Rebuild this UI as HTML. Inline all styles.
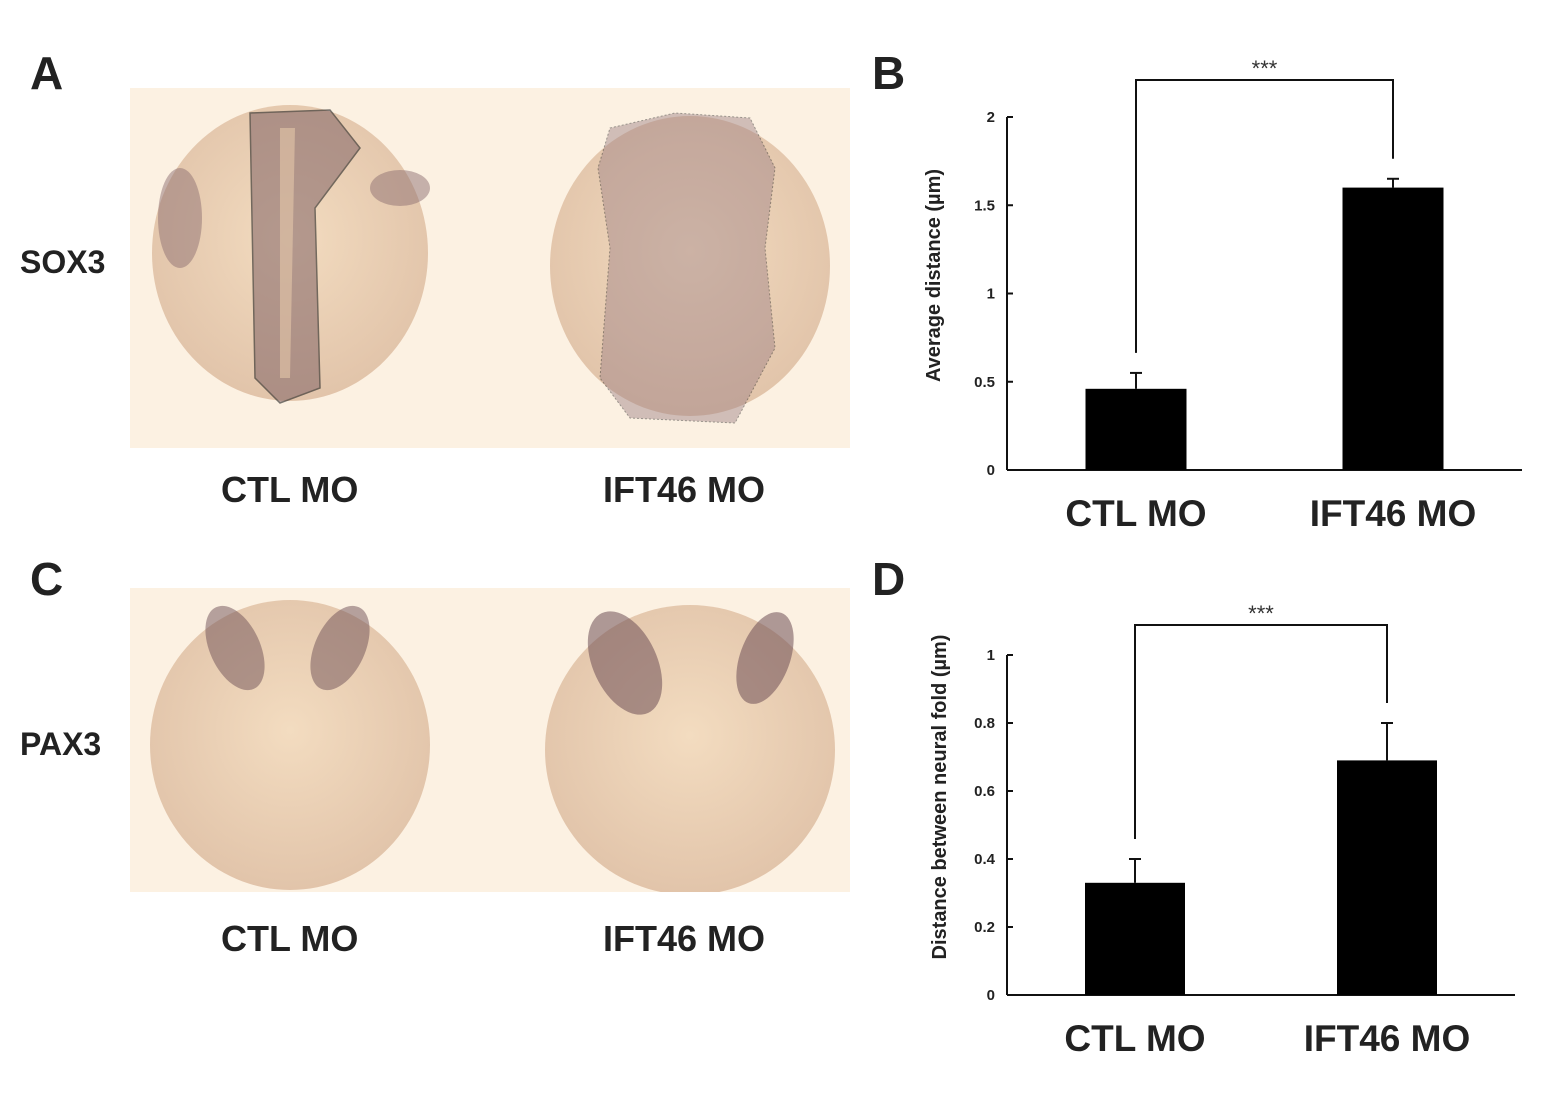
<!DOCTYPE html>
<html><head><meta charset="utf-8"><style>
body{margin:0;width:1556px;height:1104px;background:#fff;position:relative;overflow:hidden;font-family:"Liberation Sans",sans-serif;}
.t{position:absolute;font-weight:bold;color:#222;white-space:nowrap}
</style></head><body>
<div class="t" style="left:30px;top:46px;font-size:46px">A</div>
<div class="t" style="left:872px;top:46px;font-size:46px">B</div>
<div class="t" style="left:30px;top:552px;font-size:46px">C</div>
<div class="t" style="left:872px;top:552px;font-size:46px">D</div>
<div class="t" style="left:20px;top:244px;font-size:32px">SOX3</div>
<div class="t" style="left:20px;top:726px;font-size:32px">PAX3</div>
<div class="t" style="left:221px;top:469px;font-size:36px">CTL MO</div>
<div class="t" style="left:603px;top:469px;font-size:36px">IFT46 MO</div>
<div class="t" style="left:221px;top:918px;font-size:36px">CTL MO</div>
<div class="t" style="left:603px;top:918px;font-size:36px">IFT46 MO</div>

<svg style="position:absolute;left:130px;top:88px" width="720" height="360">
<defs><radialGradient id="g1" cx="0.5" cy="0.45" r="0.6"><stop offset="0" stop-color="#f3dcc0"/><stop offset="1" stop-color="#e0c2a8"/></radialGradient></defs>
<rect width="720" height="360" fill="#fcf1e2"/>
<ellipse cx="160" cy="165" rx="138" ry="148" fill="url(#g1)"/>
<ellipse cx="560" cy="178" rx="140" ry="150" fill="url(#g1)"/>
<ellipse cx="50" cy="130" rx="22" ry="50" fill="#8d6f72" opacity="0.5"/>
<ellipse cx="270" cy="100" rx="30" ry="18" fill="#8d6f72" opacity="0.5"/>
<path d="M120 25 L200 22 L230 60 L185 120 L190 300 L150 315 L125 290 Z" fill="#8a6c6c" opacity="0.6" stroke="#222" stroke-width="1.5"/>
<path d="M150 40 L165 40 L160 290 L150 290 Z" fill="#f0d2b0" opacity="0.5"/>
<path d="M480 40 L545 25 L620 30 L645 80 L635 160 L645 260 L605 335 L500 330 L470 290 L480 160 L468 80 Z" fill="#9d8085" opacity="0.45" stroke="#222" stroke-width="1" stroke-dasharray="2,2"/>
</svg>
<svg style="position:absolute;left:130px;top:588px" width="720" height="304">
<rect width="720" height="304" fill="#fcf1e2"/>
<ellipse cx="160" cy="157" rx="140" ry="145" fill="url(#g1)"/>
<ellipse cx="560" cy="162" rx="145" ry="145" fill="url(#g1)"/>
<ellipse cx="105" cy="60" rx="25" ry="45" fill="#6e4f55" opacity="0.5" transform="rotate(-25 105 60)"/>
<ellipse cx="210" cy="60" rx="25" ry="45" fill="#6e4f55" opacity="0.5" transform="rotate(25 210 60)"/>
<ellipse cx="495" cy="75" rx="32" ry="55" fill="#6e4f55" opacity="0.55" transform="rotate(-25 495 75)"/>
<ellipse cx="635" cy="70" rx="25" ry="48" fill="#6e4f55" opacity="0.55" transform="rotate(20 635 70)"/>
</svg>

<svg id="chart" style="position:absolute;left:0;top:0" width="1556" height="1104"></svg>
<script>
const categories=["CTL MO","IFT46 MO"];
const bValues=[0.46,1.6];
const bErrors=[0.09,0.05];
const bTicks=["0","0.5","1","1.5","2"];
const dValues=[0.33,0.69];
const dErrors=[0.07,0.11];
const dTicks=["0","0.2","0.4","0.6","0.8","1"];
const svg=document.getElementById('chart');
const NS='http://www.w3.org/2000/svg';
function mk(tag,at,txt){const e=document.createElementNS(NS,tag);for(const k in at)e.setAttribute(k,at[k]);if(txt!==undefined)e.textContent=txt;svg.appendChild(e);return e;}
function chart(cfg,values,errors,ticks){
  const y=v=>cfg.y0-(v/cfg.max)*(cfg.y0-cfg.yTop);
  let e=mk('line',{x1:cfg.x0,y1:cfg.yTop,x2:cfg.x0,y2:cfg.y0,stroke:'#111','stroke-width':2});
  
  
  e=mk('line',{x1:cfg.x0,y1:cfg.y0,x2:cfg.xEnd,y2:cfg.y0,stroke:'#111','stroke-width':2});
  
  
  ticks.forEach(t=>{const v=parseFloat(t),yy=y(v);
    mk('line',{x1:cfg.x0,y1:yy,x2:cfg.x0+6,y2:yy,stroke:'#111','stroke-width':2});
    e=mk('text',{x:cfg.x0-12,y:yy+5,'text-anchor':'end','font-size':15,'font-weight':'bold',fill:'#222'},t);
    
    
  });
  const tops=[];
  categories.forEach((c,i)=>{const cx=cfg.cx[i],top=y(values[i]);
    const et=y(values[i]+errors[i]);
    mk('line',{x1:cx,y1:et,x2:cx,y2:top,stroke:'#111','stroke-width':2});
    mk('line',{x1:cx-6,y1:et,x2:cx+6,y2:et,stroke:'#111','stroke-width':2});
    e=mk('rect',{x:cx-cfg.bw/2,y:top,width:cfg.bw,height:cfg.y0-top,fill:'#000'});
    
    
    e=mk('text',{x:cx,y:cfg.y0+56,'text-anchor':'middle','font-size':37,'font-weight':'bold',fill:'#222'},c);
    
    
    tops.push(et-20);
  });
  e=mk('path',{d:`M${cfg.cx[0]} ${tops[0]} V${cfg.brY} H${cfg.cx[1]} V${tops[1]}`,fill:'none',stroke:'#111','stroke-width':2});
  
  
  e=mk('text',{x:(cfg.cx[0]+cfg.cx[1])/2,y:cfg.brY-4,'text-anchor':'middle','font-size':22,fill:'#333'},'***');
  
  
  const my=(cfg.y0+cfg.yTop)/2+cfg.tOff;
  e=mk('text',{x:cfg.tx,y:my,'text-anchor':'middle','font-size':20,'font-weight':'bold',fill:'#222',transform:`rotate(-90 ${cfg.tx} ${my})`},cfg.title);
  
  
}
chart({p:'b',x0:1007,y0:470,yTop:117,max:2,xEnd:1522,cx:[1136,1393],bw:101,brY:80,tx:940,tOff:-18,title:'Average distance (µm)'},bValues,bErrors,bTicks);
chart({p:'d',x0:1007,y0:995,yTop:655,max:1,xEnd:1515,cx:[1135,1387],bw:100,brY:625,tx:946,tOff:-28,title:'Distance between neural fold (µm)'},dValues,dErrors,dTicks);
</script>
</body></html>
